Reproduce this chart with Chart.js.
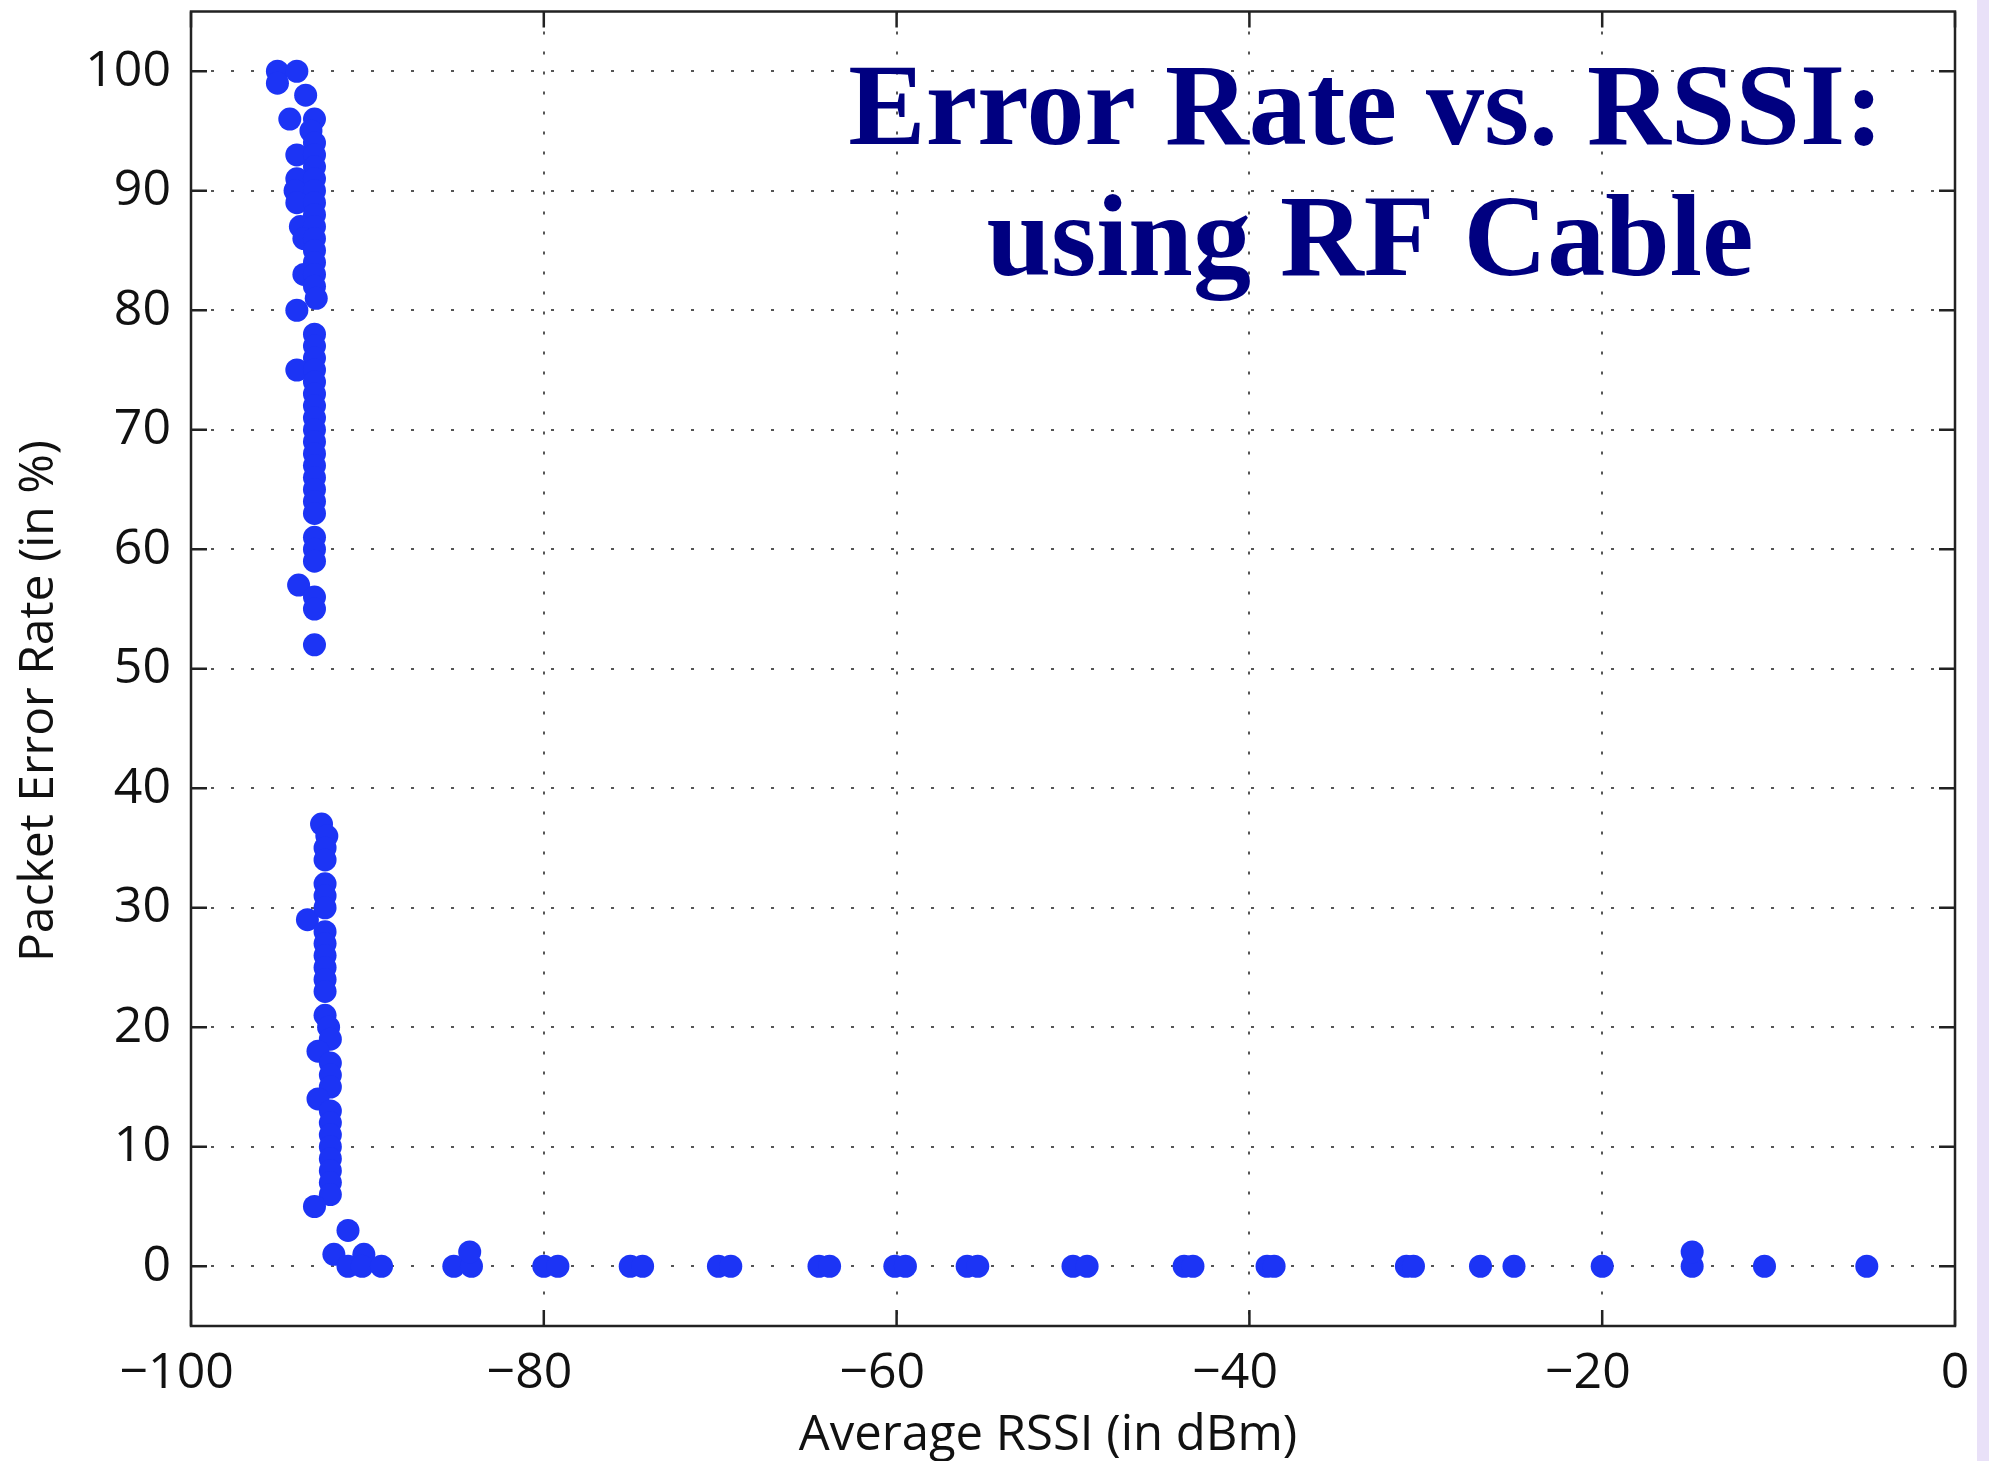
<!DOCTYPE html>
<html>
<head>
<meta charset="utf-8">
<title>Error Rate vs. RSSI</title>
<script src="https://cdn.jsdelivr.net/npm/chart.js@4.4.0/dist/chart.umd.min.js"></script>
<style>
  html, body { margin: 0; padding: 0; background: #fff; }
  canvas { display: block; }
</style>
</head>
<body>
<canvas id="chart" width="1989" height="1461"></canvas>
<script>
// Values (RSSI in dBm, packet error rate in %)
const upperRssi = [-95.1, -95.1, -94.0, -93.5, -94.4, -93.0, -93.2, -93.0, -94.0, -93.0,
  -93.0, -94.0, -93.0, -94.1, -93.0, -94.0, -93.0, -93.0, -93.8, -93.0,
  -93.6, -93.0, -93.0, -93.0, -93.6, -93.0, -93.0, -92.9, -94.0, -93.0,
  -93.0, -93.0, -94.0, -93.0, -93.0, -93.0, -93.0, -93.0, -93.0, -93.0,
  -93.0, -93.0, -93.0, -93.0, -93.0, -93.0, -93.0, -93.0, -93.0, -93.9,
  -93.0, -93.0, -93.0];
const upperPer = [100, 99, 100, 98, 96, 96, 95, 94, 93, 93,
  92, 91, 91, 90, 90, 89, 89, 88, 87, 87,
  86, 86, 85, 84, 83, 83, 82, 81, 80, 78,
  77, 76, 75, 75, 74, 73, 72, 71, 70, 69,
  68, 67, 66, 65, 64, 63, 61, 60, 59, 57,
  56, 55, 52];

const lowerRssi = [-92.6, -92.3, -92.4, -92.4, -92.4, -92.4, -93.4, -92.4, -92.4, -92.4,
  -92.4, -92.4, -92.4, -92.4, -92.4, -92.2, -92.1, -92.8, -92.1, -92.1,
  -92.1, -92.8, -92.1, -92.1, -92.1, -92.1, -92.1, -92.1, -92.1, -92.1,
  -93.0];
const lowerPer = [37, 36, 35, 34, 32, 31, 29, 30, 28, 27,
  26, 25, 24, 23, 21, 20, 19, 18, 17, 16,
  15, 14, 13, 12, 11, 10, 9, 8, 7, 6,
  5];

const floorRssi = [-91.1, -91.9, -90.2, -91.1, -90.3, -89.2, -85.1, -84.1, -84.2, -80.0,
  -79.2, -75.1, -74.4, -70.1, -69.4, -64.4, -63.8, -60.1, -59.5, -56.0,
  -55.4, -50.0, -49.2, -43.7, -43.2, -39.0, -38.6, -31.1, -30.7, -26.9,
  -25.0, -20.0, -14.9, -14.9, -10.8, -5.0];
const floorPer = [3, 1, 1, 0, 0, 0, 0, 0, 1.2, 0,
  0, 0, 0, 0, 0, 0, 0, 0, 0, 0,
  0, 0, 0, 0, 0, 0, 0, 0, 0, 0,
  0, 0, 0, 1.2, 0, 0];

const xTicks = [-100, -80, -60, -40, -20, 0];
const yTicks = [0, 10, 20, 30, 40, 50, 60, 70, 80, 90, 100];

const titleLines = ["Error Rate vs. RSSI:", "using RF Cable"];
const xTitle = "Average RSSI (in dBm)";
const yTitle = "Packet Error Rate (in %)";

const dotColor = "rgb(28, 52, 245)";

function toPoints(xs, ys) {
  return xs.map((x, i) => ({ x: x, y: ys[i] }));
}

// MATLAB style box, inward ticks, slide title and axis titles
const framePlugin = {
  id: "frame",
  beforeDraw(chart) {
    const ctx = chart.ctx;
    ctx.save();
    ctx.fillStyle = "#fff";
    ctx.fillRect(0, 0, chart.width, chart.height);
    // lavender strip of the slide on the right
    ctx.fillStyle = "#e9e1f8";
    ctx.fillRect(1977, 0, chart.width - 1977, chart.height);
    ctx.restore();
  },
  afterDatasetsDraw(chart) {
    const ctx = chart.ctx;
    const a = chart.chartArea;
    const sx = chart.scales.x;
    const sy = chart.scales.y;
    const tick = 16;

    ctx.save();
    ctx.strokeStyle = "#222";
    ctx.lineWidth = 2.5;
    ctx.strokeRect(a.left, a.top, a.right - a.left, a.bottom - a.top);

    ctx.beginPath();
    xTicks.forEach((v) => {
      const px = sx.getPixelForValue(v);
      ctx.moveTo(px, a.bottom);
      ctx.lineTo(px, a.bottom - tick);
      ctx.moveTo(px, a.top);
      ctx.lineTo(px, a.top + tick);
    });
    yTicks.forEach((v) => {
      const py = sy.getPixelForValue(v);
      ctx.moveTo(a.left, py);
      ctx.lineTo(a.left + tick, py);
      ctx.moveTo(a.right, py);
      ctx.lineTo(a.right - tick, py);
    });
    ctx.stroke();

    // title inside the plot
    ctx.fillStyle = "#000080";
    ctx.font = 'bold 116px "Liberation Serif", "Times New Roman", serif';
    ctx.textAlign = "center";
    ctx.textBaseline = "alphabetic";
    ctx.fillText(titleLines[0], 1366, 144);
    ctx.fillText(titleLines[1], 1370, 275);

    // axis titles
    ctx.fillStyle = "#111";
    ctx.font = '49px "Open Sans", sans-serif';
    ctx.fillText(xTitle, 1048, 1450);
    ctx.translate(53, 701);
    ctx.rotate(-Math.PI / 2);
    ctx.font = '48px "Open Sans", sans-serif';
    ctx.fillText(yTitle, 0, 0);
    ctx.restore();
  }
};

Chart.defaults.font.family = '"Open Sans", sans-serif';

const ctx = document.getElementById("chart").getContext("2d");
new Chart(ctx, {
  type: "scatter",
  data: {
    datasets: [
      { label: "upper", data: toPoints(upperRssi, upperPer) },
      { label: "lower", data: toPoints(lowerRssi, lowerPer) },
      { label: "floor", data: toPoints(floorRssi, floorPer) }
    ].map((d) => Object.assign(d, {
      backgroundColor: dotColor,
      borderWidth: 0,
      pointRadius: 11.5
    }))
  },
  options: {
    responsive: false,
    animation: false,
    layout: { padding: { top: 10, right: 34, left: 0, bottom: 0 } },
    plugins: {
      legend: { display: false },
      tooltip: { enabled: false }
    },
    scales: {
      x: {
        type: "linear",
        min: -100,
        max: 0,
        afterBuildTicks: (scale) => {
          scale.ticks = xTicks.map((v) => ({ value: v }));
        },
        afterFit: (scale) => {
          scale.height = 135;
          scale.paddingLeft = 0;
          scale.paddingRight = 0;
        },
        grid: { color: "#555", lineWidth: 2, drawTicks: false },
        border: { display: false, dash: [3, 17] },
        ticks: {
          padding: 18,
          color: "#111",
          font: { size: 50 },
          maxRotation: 0,
          // center the digits, let the minus hang to the left
          callback: (v) => (v < 0 ? "\u2212" + Math.abs(v) + "\u2007" : String(v))
        }
      },
      y: {
        type: "linear",
        min: -5,
        max: 105,
        afterBuildTicks: (scale) => {
          scale.ticks = yTicks.map((v) => ({ value: v }));
        },
        afterFit: (scale) => {
          scale.width = 191;
          scale.paddingTop = 0;
          scale.paddingBottom = 0;
        },
        grid: { color: "#555", lineWidth: 2, drawTicks: false },
        border: { display: false, dash: [3, 17] },
        ticks: {
          padding: 20,
          color: "#111",
          font: { size: 50 },
          callback: (v) => String(v)
        }
      }
    }
  },
  plugins: [framePlugin]
});
</script>
</body>
</html>
